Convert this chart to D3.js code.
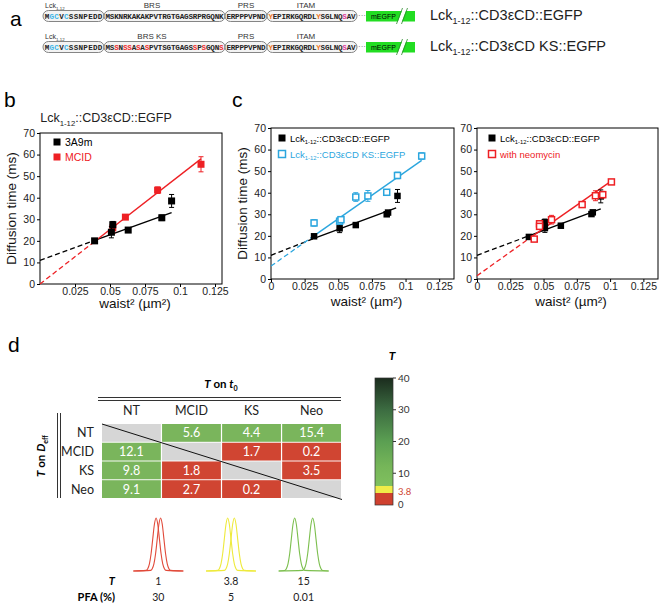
<!DOCTYPE html>
<html><head><meta charset="utf-8">
<script src="https://cdn.jsdelivr.net/npm/d3@7"></script>
<style>body{margin:0;background:#fff}svg{display:block}</style>
</head><body>
<svg id="fig" width="660" height="604"></svg>
<script>
// ---------------- DATA ----------------
// panel a: sequences
const seqRow1 = ["MGCVCSSNPEDD","MSKNRKAKAKPVTRGTGAGSRPRGQNK","ERPPPVPND","YEPIRKGQRDLYSGLNQSAV"];
const seqRow2 = ["MGCVCSSNPEDD","MSSNSSASASPVTSGTGAGSSPSGQNS","ERPPPVPND","YEPIRKGQRDLYSGLNQSAV"];
const segLabels1 = ["Lck","BRS","PRS","ITAM"];
const segLabels2 = ["Lck","BRS KS","PRS","ITAM"];
const highlight1 = [[0,1,"cyan"],[0,2,"cyan"],[0,4,"cyan"],[3,0,"orange"],[3,11,"orange"],[3,17,"magenta"]];
const highlight2 = highlight1.concat([[1,2,"red"],[1,4,"red"],[1,5,"red"],[1,7,"red"],[1,9,"red"],[1,20,"red"],[1,22,"red"],[1,26,"red"]]);
const constructNames = [["Lck",{t:"1-12",sub:true},"::CD3εCD::EGFP"],["Lck",{t:"1-12",sub:true},"::CD3εCD KS::EGFP"]];

// panel b: [waist², diffusion time (ms), error]
const b3A9m = [[0.039,20,0.8],[0.051,24,2.6],[0.052,27.5,1.5],[0.063,25,0.8],[0.087,30.7,1.3],[0.094,38.5,3]];
const bMCID = [[0.052,26,2.5],[0.061,31,1],[0.084,43.5,1.5],[0.115,55.5,3.5]];
const bFit3A9m = [[0,11],[0.039,20.2],[0.094,33.1]];
const bFitMCID = [[0,0],[0.039,19.7],[0.115,58]];

// panel c left
const cWT = [[0.032,19.8,0.6],[0.051,23.5,2],[0.063,25,0.6],[0.086,30,1],[0.087,30.8,0.8],[0.094,38.5,3]];
const cKS = [[0.032,26,1.5],[0.051,26.8,1.5],[0.052,27.5,1.2],[0.063,38,2],[0.072,38.5,2.5],[0.086,40.2,1],[0.094,48,1.5],[0.112,57,1.5]];
const cFitWT = [[0,11],[0.032,18.8],[0.093,33]];
const cFitKS = [[0,6],[0.03,19.2],[0.112,55]];

// panel c right
const cWT2 = [[0.039,19.5,0.6],[0.051,23.6,2],[0.051,26.3,1.5],[0.063,24.7,0.6],[0.086,30.1,1],[0.087,30.9,0.8],[0.093,38.3,3]];
const cNeo = [[0.043,18.5,0.8],[0.047,25.6,1.5],[0.047,24.4,1],[0.056,27.5,2],[0.079,34.5,0.5],[0.089,38.6,2.3],[0.0945,39.1,1.5],[0.101,45,1]];
const cFitWT2 = [[0,11],[0.039,20],[0.093,32.5]];
const cFitNeo = [[0,1.5],[0.042,20],[0.1,45]];

const xTicksB = [0.025,0.05,0.075,0.1,0.125];
const xTickLabelsB = ["0.025","0.05","0.075","0.1","0.125"];
const xTicksC = [0,0.025,0.05,0.075,0.1,0.125];
const xTickLabelsC = ["0","0.025","0.05","0.075","0.1","0.125"];
const yTicks = [0,10,20,30,40,50,60,70];

// panel d
const conditions = ["NT","MCID","KS","Neo"];
const tMatrix = [[null,5.6,4.4,15.4],[12.1,null,1.7,0.2],[9.8,1.8,null,3.5],[9.1,2.7,0.2,null]];
const tThreshold = 3.8;
const cbTicks = [10,20,30,40];
const cbStops = [[0,"#cf412f"],[3.8,"#cf412f"],[3.8,"#f0ec48"],[6,"#f0ec48"],[6,"#80c05e"],[12,"#76b659"],[20,"#5b9f52"],[30,"#3c6c41"],[40,"#1b2c1e"]];
const peakT = ["1","3.8","15"];
const peakPFA = ["30","5","0.01"];
const peakSep = [1.35,2.0,5.4];   // separation of the two peaks in peak widths (sigma)
const bellProfile = [[-3,0.011],[-2.5,0.044],[-2,0.135],[-1.5,0.325],[-1,0.607],[-0.5,0.882],[0,1],[0.5,0.882],[1,0.607],[1.5,0.325],[2,0.135],[2.5,0.044],[3,0.011]];

// ---------------- LAYOUT / STYLE ----------------
const SANS = "'Liberation Sans', Arial, sans-serif";
const CAL = "Lato, 'Open Sans', sans-serif";
const MONO = "'Liberation Mono', 'DejaVu Sans Mono', monospace";
const RED = "#ee2024", BLUE = "#2ba6de";
const hiColors = {cyan:"#3db7e8", orange:"#f07a28", magenta:"#e0389a", red:"#ee2a2a"};
const pillEdges = [43,104,225,267,357];
const pillLabelX = [null,152,246,306];

const svg = d3.select("#fig");
svg.append("rect").attr("width",660).attr("height",604).attr("fill","#fff");

function rich(parent, x, y, parts, fs, o={}) {
  const t = parent.append("text").attr("x",x).attr("y",y).attr("font-size",fs)
    .attr("font-family",o.ff||SANS).attr("fill",o.fill||"#000").attr("text-anchor",o.anchor||"start");
  if (o.weight) t.attr("font-weight",o.weight);
  if (o.transform) t.attr("transform",o.transform);
  let shift = 0;
  parts.forEach(p=>{
    if (typeof p === "string") p = {t:p};
    const target = p.sub ? fs*0.3 : 0;
    const ts = t.append("tspan").text(p.t).attr("dy",target-shift);
    shift = target;
    if (p.sub) ts.attr("font-size",fs*0.62);
    if (p.i) ts.attr("font-style","italic");
    if (p.fill) ts.attr("fill",p.fill);
  });
  return t;
}
function letter(t,x,y){ svg.append("text").attr("x",x).attr("y",y).attr("font-size",21).attr("font-family",SANS).text(t); }

// ---------------- PANEL A ----------------
letter("a",10,26);
function seqRow(segs, labels, hl, yc, nameParts) {
  const g = svg.append("g");
  const colorOf = {};
  hl.forEach(([s,i,c])=>colorOf[s+"_"+i]=hiColors[c]);
  segs.forEach((s,si)=>{
    const x0 = pillEdges[si], x1 = pillEdges[si+1];
    const cx = d3.scaleLinear().domain([0,s.length]).range([x0+1.5,x1-1.5]);
    const cw = cx(1)-cx(0);
    g.append("rect").attr("x",x0).attr("y",yc-5.5).attr("width",x1-x0).attr("height",11)
      .attr("rx",5.5).attr("fill","#f3f3f3").attr("stroke","#777").attr("stroke-width",0.9);
    const chars = s.split("").map((ch,i)=>({ch,i}));
    g.selectAll(null).data(chars).join("text")
      .attr("x",d=>cx(d.i)+cw/2).attr("y",yc+2.7).attr("text-anchor","middle")
      .attr("font-family",MONO).attr("font-weight","bold").attr("font-size",7.6)
      .attr("fill",d=>colorOf[si+"_"+d.i]||"#222").text(d=>d.ch);
    if (si===0) {
      rich(g, x0+2, yc-8, [labels[0],{t:"1-12",sub:true}], 7, {fill:"#333"});
    } else {
      g.append("text").attr("x",pillLabelX[si]).attr("y",yc-8).attr("text-anchor","middle")
        .attr("font-size",8).attr("font-family",SANS).attr("fill","#333").text(labels[si]);
    }
  });
  g.append("text").attr("x",358).attr("y",yc+2).attr("font-size",8).attr("fill","#666").attr("font-family",SANS).text("···");
  g.append("rect").attr("x",366).attr("y",yc-5).attr("width",49).attr("height",10.5).attr("fill","#22dd22");
  g.append("text").attr("x",371).attr("y",yc+2.5).attr("font-size",7).attr("font-family",SANS).text("mEGFP");
  g.append("polygon").attr("points",`${397},${yc+8} ${401},${yc+8} ${407},${yc-8} ${403},${yc-8}`).attr("fill","#fff");
  g.append("line").attr("x1",396.5).attr("y1",yc+8).attr("x2",402.5).attr("y2",yc-8).attr("stroke","#2a8a2a").attr("stroke-width",0.8);
  g.append("line").attr("x1",401.5).attr("y1",yc+8).attr("x2",407.5).attr("y2",yc-8).attr("stroke","#2a8a2a").attr("stroke-width",0.8);
  rich(svg, 430, yc+4, nameParts, 14.5, {fill:"#222"});
}
seqRow(seqRow1, segLabels1, highlight1, 16, constructNames[0]);
seqRow(seqRow2, segLabels2, highlight2, 47, constructNames[1]);

// ---------------- SCATTER PANELS ----------------
function frame(g, xs, ys, xT, xL) {
  const [x0,x1] = xs.range(), [y0,y1] = ys.range();
  g.append("rect").attr("x",x0).attr("y",y1).attr("width",x1-x0).attr("height",y0-y1)
    .attr("fill","none").attr("stroke","#000").attr("stroke-width",1);
  const ax = g.append("g").attr("transform",`translate(0,${y0})`)
    .call(d3.axisBottom(xs).tickValues(xT).tickFormat((d,i)=>xL[i]).tickSize(3).tickPadding(0.5));
  const ay = g.append("g").attr("transform",`translate(${x0},0)`)
    .call(d3.axisLeft(ys).tickValues(yTicks).tickSize(3).tickPadding(2));
  [ax,ay].forEach(a=>{ a.select(".domain").remove();
    a.selectAll("text").attr("font-size",10.5).attr("font-family",SANS).attr("fill","#222"); });
}
function fit(g, xs, ys, pts, color) {
  const line = d3.line().x(d=>xs(d[0])).y(d=>ys(d[1]));
  g.append("path").attr("d",line(pts.slice(0,2))).attr("stroke",color).attr("stroke-width",1.3)
    .attr("stroke-dasharray","5,3").attr("fill","none");
  g.append("path").attr("d",line(pts.slice(1))).attr("stroke",color).attr("stroke-width",1.4).attr("fill","none");
}
function series(g, xs, ys, data, color, filled, s) {
  const gg = g.append("g");
  gg.selectAll(null).data(data).join("line")
    .attr("x1",d=>xs(d[0])).attr("x2",d=>xs(d[0])).attr("y1",d=>ys(d[1]-d[2])).attr("y2",d=>ys(d[1]+d[2]))
    .attr("stroke",color).attr("stroke-width",1);
  [-1,1].forEach(sg=>gg.selectAll(null).data(data).join("line")
    .attr("x1",d=>xs(d[0])-2.5).attr("x2",d=>xs(d[0])+2.5).attr("y1",d=>ys(d[1]+sg*d[2])).attr("y2",d=>ys(d[1]+sg*d[2]))
    .attr("stroke",color).attr("stroke-width",1));
  gg.selectAll(null).data(data).join("rect")
    .attr("x",d=>xs(d[0])-s/2).attr("y",d=>ys(d[1])-s/2).attr("width",s).attr("height",s)
    .attr("fill",filled?color:"#fff").attr("stroke",color).attr("stroke-width",filled?0:1.5);
}
function legendItem(g, x, y, color, filled, parts, fs) {
  const s = 7;
  g.append("rect").attr("x",x-s/2).attr("y",y-s/2).attr("width",s).attr("height",s)
    .attr("fill",filled?color:"none").attr("stroke",color).attr("stroke-width",filled?0:1.5);
  rich(g, x+8, y+3.5, parts, fs, {fill:color});
}
function titles(g, xs, ys, yx, xy) {
  const [x0,x1] = xs.range(), [y0,y1] = ys.range();
  g.append("text").attr("transform",`translate(${yx},${(y0+y1)/2}) rotate(-90)`).attr("text-anchor","middle")
    .attr("font-size",13.5).attr("font-family",SANS).attr("fill","#111").text("Diffusion time (ms)");
  g.append("text").attr("x",(x0+x1)/2+4).attr("y",xy).attr("text-anchor","middle")
    .attr("font-size",13.5).attr("font-family",SANS).attr("fill","#111").text("waist² (µm²)");
}

// panel b
letter("b",4,107);
{
  const g = svg.append("g");
  const xs = d3.scaleLinear().domain([0,0.13]).range([40,222]);
  const ys = d3.scaleLinear().domain([0,70]).range([284,133]);
  frame(g, xs, ys, xTicksB, xTickLabelsB);
  fit(g, xs, ys, bFit3A9m, "#000");
  fit(g, xs, ys, bFitMCID, RED);
  series(g, xs, ys, bMCID, RED, true, 7);
  series(g, xs, ys, b3A9m, "#000", true, 7);
  legendItem(g, 57, 142, "#000", true, ["3A9m"], 10.5);
  legendItem(g, 57, 157, RED, true, ["MCID"], 10.5);
  rich(g, 106, 122, ["Lck",{t:"1-12",sub:true},"::CD3εCD::EGFP"], 12.5, {anchor:"middle", fill:"#222"});
  titles(g, xs, ys, 16, 308);
}
// panel c left
letter("c",232,107);
{
  const g = svg.append("g");
  const xs = d3.scaleLinear().domain([0,0.136]).range([271,454]);
  const ys = d3.scaleLinear().domain([0,70]).range([279,128]);
  frame(g, xs, ys, xTicksC, xTickLabelsC);
  fit(g, xs, ys, cFitWT, "#000");
  fit(g, xs, ys, cFitKS, BLUE);
  series(g, xs, ys, cWT, "#000", true, 6.5);
  series(g, xs, ys, cKS, BLUE, false, 6);
  legendItem(g, 282, 138, "#000", true, ["Lck",{t:"1-12",sub:true},"::CD3εCD::EGFP"], 9.5);
  legendItem(g, 282, 154, BLUE, false, ["Lck",{t:"1-12",sub:true},"::CD3εCD KS::EGFP"], 9.5);
  titles(g, xs, ys, 247, 306);
}
// panel c right
{
  const g = svg.append("g");
  const xs = d3.scaleLinear().domain([0,0.136]).range([477,658]);
  const ys = d3.scaleLinear().domain([0,70]).range([279,128]);
  frame(g, xs, ys, xTicksC, xTickLabelsC);
  fit(g, xs, ys, cFitWT2, "#000");
  fit(g, xs, ys, cFitNeo, RED);
  series(g, xs, ys, cWT2, "#000", true, 6.5);
  series(g, xs, ys, cNeo, RED, false, 6);
  legendItem(g, 492, 138, "#000", true, ["Lck",{t:"1-12",sub:true},"::CD3εCD::EGFP"], 9.5);
  legendItem(g, 492, 154, RED, false, ["with neomycin"], 9.5);
  g.append("text").attr("x",571).attr("y",306).attr("text-anchor","middle")
    .attr("font-size",13.5).attr("font-family",SANS).attr("fill","#111").text("waist² (µm²)");
}

// ---------------- PANEL D ----------------
letter("d",8,352);
{
  const g = svg.append("g").attr("font-family",CAL);
  const cx = d3.scaleBand().domain(conditions).range([102,341]).paddingInner(0.02);
  const ry = d3.scaleBand().domain(conditions).range([424,498]).paddingInner(0.05);
  rich(g, 221, 388, [{t:"T",i:true}," on ",{t:"t",i:true},{t:"0",sub:true}], 11.5, {anchor:"middle", weight:"bold", ff:CAL});
  g.append("line").attr("x1",98).attr("x2",341).attr("y1",397.5).attr("y2",397.5).attr("stroke","#333").attr("stroke-width",1);
  g.append("line").attr("x1",98).attr("x2",341).attr("y1",400.5).attr("y2",400.5).attr("stroke","#333").attr("stroke-width",1);
  g.append("line").attr("x1",57.5).attr("x2",57.5).attr("y1",413).attr("y2",498).attr("stroke","#333").attr("stroke-width",1);
  g.append("line").attr("x1",60.5).attr("x2",60.5).attr("y1",413).attr("y2",498).attr("stroke","#333").attr("stroke-width",1);
  rich(g, 0, 0, [{t:"T",i:true}," on ",{t:"D",i:true},{t:"eff",sub:true}], 11.5,
       {anchor:"middle", weight:"bold", ff:CAL, transform:"translate(45,456) rotate(-90)"});
  g.selectAll(null).data(conditions).join("text")
    .attr("x",d=>cx(d)+cx.bandwidth()/2).attr("y",415).attr("text-anchor","middle")
    .attr("font-size",12.5).attr("fill","#222").text(d=>d);
  g.selectAll(null).data(conditions).join("text")
    .attr("x",94).attr("y",d=>ry(d)+ry.bandwidth()/2+4.5).attr("text-anchor","end")
    .attr("font-size",12.5).attr("fill","#222").text(d=>d);
  const cells = [];
  tMatrix.forEach((row,ri)=>row.forEach((v,ci)=>cells.push({r:conditions[ri],c:conditions[ci],v})));
  g.selectAll(null).data(cells).join("rect")
    .attr("x",d=>cx(d.c)).attr("y",d=>ry(d.r)).attr("width",cx.bandwidth()).attr("height",ry.bandwidth())
    .attr("fill",d=>d.v===null?"#d6d6d6":(d.v>=tThreshold?"#7ab55c":"#d04532"));
  g.selectAll(null).data(cells.filter(d=>d.v!==null)).join("text")
    .attr("x",d=>cx(d.c)+cx.bandwidth()/2).attr("y",d=>ry(d.r)+ry.bandwidth()/2+4.5).attr("text-anchor","middle")
    .attr("font-size",12.5).attr("fill","#fff").text(d=>d.v.toFixed(1));
  g.append("line").attr("x1",cx(conditions[0])).attr("y1",ry(conditions[0]))
    .attr("x2",cx(conditions[3])+cx.bandwidth()+1).attr("y2",ry(conditions[3])+ry.bandwidth()+1.5)
    .attr("stroke","#111").attr("stroke-width",1);

  // colorbar
  const cb = d3.scaleLinear().domain([0,40]).range([505,378]);
  const grad = svg.append("defs").append("linearGradient").attr("id","cbg")
    .attr("x1",0).attr("y1",1).attr("x2",0).attr("y2",0);
  grad.selectAll("stop").data(cbStops).join("stop")
    .attr("offset",d=>d[0]/40).attr("stop-color",d=>d[1]);
  g.append("rect").attr("x",375).attr("y",cb(40)).attr("width",18).attr("height",cb(0)-cb(40))
    .attr("fill","url(#cbg)").attr("stroke","#333").attr("stroke-width",0.7);
  g.selectAll(null).data(cbTicks).join("line").attr("x1",393).attr("x2",396)
    .attr("y1",d=>cb(d)).attr("y2",d=>cb(d)).attr("stroke","#333");
  g.selectAll(null).data(cbTicks).join("text").attr("x",398).attr("y",d=>cb(d)+3.5)
    .attr("font-size",10).attr("fill","#333").text(d=>d);
  g.append("text").attr("x",398).attr("y",cb(tThreshold)+2).attr("font-size",9.5).attr("fill","#d04532").text("3.8");
  g.append("text").attr("x",398).attr("y",cb(0)+3).attr("font-size",9.5).attr("fill","#333").text("0");
  g.append("text").attr("x",392).attr("y",360).attr("text-anchor","middle").attr("font-size",12)
    .attr("font-style","italic").attr("font-weight","bold").text("T");

  // peaks
  const px = d3.scaleBand().domain(peakT).range([122,340]);
  const py = d3.scaleLinear().domain([0,1]).range([571,518]);
  const pColors = ["#e14a3a","#eeea3c","#7cbf4e"];
  peakT.forEach((t,i)=>{
    const c = px(t)+px.bandwidth()/2;
    const ls = d3.scaleLinear().domain([-7.5,7.5]).range([c-25,c+25]);
    const line = d3.line().x(d=>ls(d[0])).y(d=>py(d[1])).curve(d3.curveMonotoneX);
    [-1,1].forEach(sg=>{
      const off = sg*peakSep[i]/2;
      const pts = [[-7.5,0]].concat(bellProfile.map(([u,h])=>[u+off,h])).concat([[7.5,0]]);
      g.append("path").attr("d",line(pts)).attr("fill","none").attr("stroke",pColors[i]).attr("stroke-width",1.1);
    });
  });
  g.append("text").attr("x",115).attr("y",585).attr("text-anchor","end").attr("font-size",11)
    .attr("font-weight","bold").attr("font-style","italic").text("T");
  g.append("text").attr("x",115).attr("y",601).attr("text-anchor","end").attr("font-size",11)
    .attr("font-weight","bold").text("PFA (%)");
  g.selectAll(null).data(peakT).join("text").attr("x",d=>px(d)+px.bandwidth()/2).attr("y",585)
    .attr("text-anchor","middle").attr("font-size",10.5).attr("fill","#222").text(d=>d);
  g.selectAll(null).data(peakPFA).join("text").attr("x",(d,i)=>px(peakT[i])+px.bandwidth()/2).attr("y",601)
    .attr("text-anchor","middle").attr("font-size",10.5).attr("fill","#222").text(d=>d);
}
</script>
</body></html>
